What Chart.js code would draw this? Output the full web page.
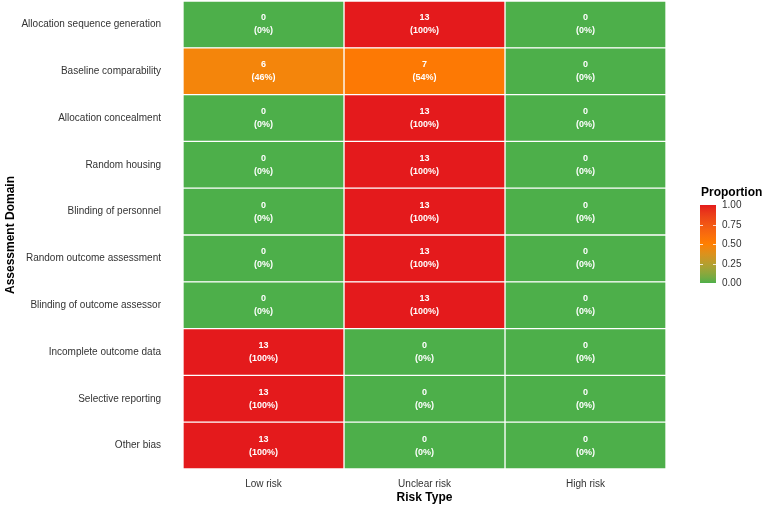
<!DOCTYPE html>
<html>
<head>
<meta charset="utf-8">
<script src="https://cdn.jsdelivr.net/npm/chart.js@4.4.1/dist/chart.umd.min.js"></script>
<style>
  html, body { margin: 0; padding: 0; background: #fff; }
  #wrap { width: 767px; height: 507px; }
</style>
</head>
<body>
<div id="wrap"><canvas id="heat"></canvas></div>
<script>
// Datos del gráfico
const domains = [
  'Allocation sequence generation',
  'Baseline comparability',
  'Allocation concealment',
  'Random housing',
  'Blinding of personnel',
  'Random outcome assessment',
  'Blinding of outcome assessor',
  'Incomplete outcome data',
  'Selective reporting',
  'Other bias'
];
const riskTypes = ['Low risk', 'Unclear risk', 'High risk'];
const lowRisk = [0, 6, 0, 0, 0, 0, 0, 13, 13, 13];
const unclearRisk = [13, 7, 13, 13, 13, 13, 13, 0, 0, 0];
const highRisk = [0, 0, 0, 0, 0, 0, 0, 0, 0, 0];
const totalStudies = 13;
const legendTicks = [0, 0.25, 0.5, 0.75, 1];

const counts = [lowRisk, unclearRisk, highRisk];
const FONT = '"Liberation Sans", Arial, sans-serif';

// Colores: verde -> naranja -> rojo (punto medio 0.5), mezcla en espacio Lab
const lowCol = [77, 175, 74];
const midCol = [255, 127, 0];
const highCol = [228, 26, 28];

const WHITE = [0.95047, 1, 1.08883];
const toLab = rgb => {
  const lin = rgb.map(v => { v /= 255; return v <= 0.04045 ? v / 12.92 : Math.pow((v + 0.055) / 1.055, 2.4); });
  const xyz = [
    0.4124 * lin[0] + 0.3576 * lin[1] + 0.1805 * lin[2],
    0.2126 * lin[0] + 0.7152 * lin[1] + 0.0722 * lin[2],
    0.0193 * lin[0] + 0.1192 * lin[1] + 0.9505 * lin[2]
  ];
  const f = xyz.map((v, i) => { v /= WHITE[i]; return v > 0.008856 ? Math.cbrt(v) : 7.787 * v + 16 / 116; });
  return [116 * f[1] - 16, 500 * (f[0] - f[1]), 200 * (f[1] - f[2])];
}
const fromLab = ([L, a, b]) => {
  const fy = (L + 16) / 116, fx = fy + a / 500, fz = fy - b / 200;
  const xyz = [fx, fy, fz].map((f, i) => (f ** 3 > 0.008856 ? f ** 3 : (f - 16 / 116) / 7.787) * WHITE[i]);
  const lin = [
    3.2406 * xyz[0] - 1.5372 * xyz[1] - 0.4986 * xyz[2],
    -0.9689 * xyz[0] + 1.8758 * xyz[1] + 0.0415 * xyz[2],
    0.0557 * xyz[0] - 0.2040 * xyz[1] + 1.0570 * xyz[2]
  ];
  return lin.map(v => {
    v = v <= 0.0031308 ? 12.92 * v : 1.055 * Math.pow(v, 1 / 2.4) - 0.055;
    return Math.max(0, Math.min(255, Math.round(v * 255)));
  });
}
const mixLab = (a, b, t) => {
  const la = toLab(a), lb = toLab(b);
  return fromLab(la.map((v, i) => v + (lb[i] - v) * t));
}
const propColor = p => {
  const c = p <= 0.5 ? mixLab(lowCol, midCol, p / 0.5) : mixLab(midCol, highCol, (p - 0.5) / 0.5);
  return `rgb(${c[0]},${c[1]},${c[2]})`;
}

//Etiquetas dentro de cada celda
const cellLabels = {
  id: 'cellLabels',
  afterDatasetsDraw(chart) {
    const ctx = chart.ctx;
    ctx.save();
    ctx.fillStyle = '#ffffff';
    ctx.textAlign = 'center';
    ctx.textBaseline = 'middle';
    ctx.font = 'bold 9px ' + FONT;
    chart.data.datasets.forEach((ds, di) => {
      chart.getDatasetMeta(di).data.forEach((bar, i) => {
        const n = counts[di][i];
        const pct = Math.round(n / totalStudies * 100);
        const { x, y } = bar.getCenterPoint();
        ctx.fillText(String(n), x, y - 6.5);
        ctx.fillText(`(${pct}%)`, x, y + 6.5);
      });
    });
    ctx.restore();
  }
};

//Leyenda de color
const colorLegend = {
  id: 'colorLegend',
  afterDraw(chart) {
    const ctx = chart.ctx;
    const x0 = 700, w = 16, top = 205, bottom = 283;
    ctx.save();
    ctx.fillStyle = '#000';
    ctx.font = 'bold 12px ' + FONT;
    ctx.textAlign = 'left';
    ctx.textBaseline = 'middle';
    ctx.fillText('Proportion', 701, 193);

    const grad = ctx.createLinearGradient(0, bottom, 0, top);
    for (let k = 0; k <= 40; k++) grad.addColorStop(k / 40, propColor(k / 40));
    ctx.fillStyle = grad;
    ctx.fillRect(x0, top, w, bottom - top);

    ctx.strokeStyle = 'rgba(255,255,255,0.8)';
    ctx.lineWidth = 1;
    ctx.font = '10px ' + FONT;
    ctx.fillStyle = '#333';
    legendTicks.forEach(v => {
      const y = Math.round(bottom - (bottom - top) * v) + 0.5;
      if (v > 0 && v < 1) {
        ctx.beginPath();
        ctx.moveTo(x0, y); ctx.lineTo(x0 + 3, y);
        ctx.moveTo(x0 + w - 3, y); ctx.lineTo(x0 + w, y);
        ctx.stroke();
      }
      ctx.fillText(v.toFixed(2), 722, y);
    });
    ctx.restore();
  }
};

const datasets = counts.map((serie, di) => ({
  label: riskTypes[di],
  data: serie.map(() => [di, di + 1]),
  backgroundColor: serie.map(n => propColor(n / totalStudies)),
  borderColor: '#ffffff',
  borderWidth: 1,
  borderSkipped: false,
  grouped: false,
  barPercentage: 1,
  categoryPercentage: 1
}));

const grafico = new Chart(document.getElementById('heat'), {
  type: 'bar',
  data: { labels: domains, datasets },
  options: {
    indexAxis: 'y',
    responsive: true,
    maintainAspectRatio: false,
    animation: false,
    layout: { padding: { top: 1, right: 101, left: 0, bottom: 0 } },
    plugins: { legend: { display: false }, tooltip: { enabled: false } },
    scales: {
      x: {
        type: 'linear',
        min: 0,
        max: 3,
        grid: { display: false, drawTicks: false },
        border: { display: false },
        afterBuildTicks: scale => { scale.ticks = riskTypes.map((_, i) => ({ value: i + 0.5 })); },
        afterFit: scale => { scale.height = 38; scale.paddingLeft = 0; scale.paddingRight = 0; },
        ticks: {
          autoSkip: false,
          maxRotation: 0,
          padding: 9,
          color: '#333',
          font: { size: 10, family: FONT },
          callback: v => riskTypes[Math.floor(v)]
        },
        title: {
          display: true,
          text: 'Risk Type',
          color: '#000',
          padding: { top: 0, bottom: 2.5 },
          font: { size: 12, weight: 'bold', family: FONT }
        }
      },
      y: {
        type: 'category',
        grid: { display: false, drawTicks: false },
        border: { display: false },
        afterFit: scale => { scale.width = 183; scale.paddingTop = 0; scale.paddingBottom = 0; },
        ticks: {
          padding: 22,
          color: '#333',
          font: { size: 10, family: FONT }
        },
        title: {
          display: true,
          text: 'Assessment Domain',
          color: '#000',
          padding: { top: 3, bottom: 0 },
          font: { size: 12, weight: 'bold', family: FONT }
        }
      }
    }
  },
  plugins: [cellLabels, colorLegend]
});
</script>
</body>
</html>
